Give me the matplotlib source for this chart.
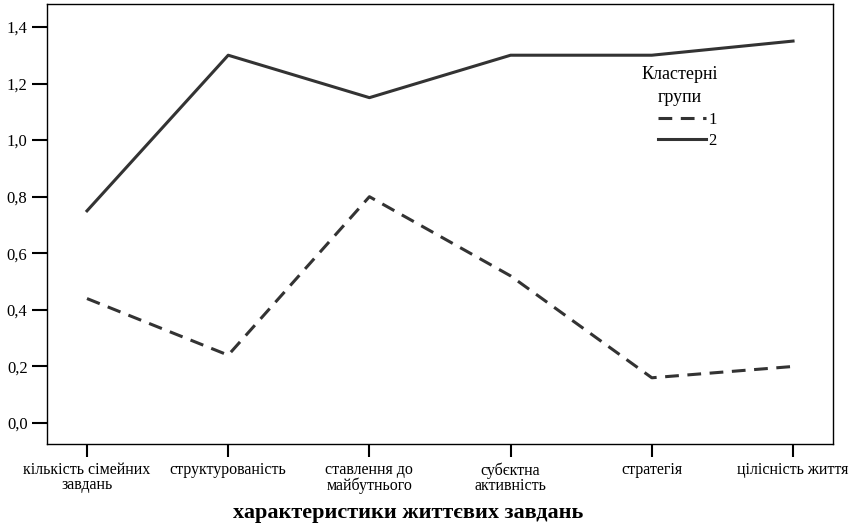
import matplotlib.pyplot as plt
from matplotlib.ticker import FuncFormatter

plt.rcParams['font.family'] = ['Liberation Serif', 'DejaVu Serif']

categories = ['кількість сімейних\nзавдань', 'структурованість', 'ставлення до\nмайбутнього',
              'субєктна\nактивність', 'стратегія', 'цілісність життя']
cluster1 = [0.44, 0.24, 0.80, 0.52, 0.16, 0.20]
cluster2 = [0.75, 1.30, 1.15, 1.30, 1.30, 1.35]
yticks = [0.0, 0.2, 0.4, 0.6, 0.8, 1.0, 1.2, 1.4]

fig = plt.figure(figsize=(8.52, 5.26), dpi=100)
ax = fig.add_axes([0.0552, 0.1559, 0.9225, 0.8365])

x = range(len(categories))
ax.plot(x, cluster1, color='#333333', lw=2.2, dashes=(4.5, 2.8), label='1')
ax.plot(x, cluster2, color='#333333', lw=2.2, label='2')

ax.set_xlim(-0.283, 5.283)
ax.set_ylim(-0.074, 1.481)
ax.set_xticks(list(x))
ax.set_xticklabels(categories, fontsize=11.5, linespacing=0.95)
ax.set_yticks(yticks)
ax.yaxis.set_major_formatter(FuncFormatter(lambda v, p: f'{v:.1f}'.replace('.', ',')))
ax.tick_params(axis='y', length=11, width=1.5, labelsize=12, pad=3)
ax.tick_params(axis='x', length=9, width=1.5, pad=4)
for s in ax.spines.values():
    s.set_linewidth(1.0)

fig.text(408 / 852, 1 - 513 / 526, 'характеристики життєвих завдань',
         fontsize=16, fontweight='bold', ha='center', va='center')

# legend title and entries
ax.text(0.805, 0.8145, 'Кластерні\nгрупи', transform=ax.transAxes, fontsize=13,
        ha='center', va='center', multialignment='center', linespacing=1.45)
ax.legend(frameon=False, loc='upper left', bbox_to_anchor=(0.7774, 0.7545),
          borderaxespad=0, borderpad=0, handlelength=2.9, handletextpad=0.1,
          labelspacing=0.28, fontsize=12)

fig.savefig('out.png', dpi=100)
